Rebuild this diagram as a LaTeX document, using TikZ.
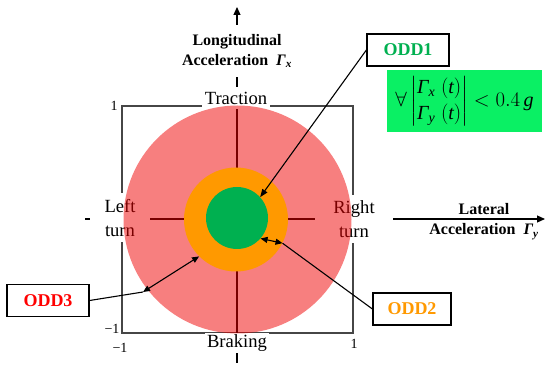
\documentclass[tikz,border=0pt]{standalone}
\usepackage{amsmath}
\usepackage{fontspec}
\setmainfont{Liberation Serif}
\usetikzlibrary{arrows.meta}
\definecolor{pinkred}{RGB}{240,0,0}
\definecolor{orng}{RGB}{255,153,0}
\definecolor{grn}{RGB}{0,176,80}
\definecolor{fgreen}{RGB}{10,240,100}
\definecolor{framec}{RGB}{70,70,70}
\newcommand{\tI}[1]{\text{\itshape #1}}
\begin{document}
\begin{tikzpicture}[x=1pt,y=-1pt,
  frame/.style={draw=framec, line width=1.5pt},
  axis/.style={draw=black, line width=1.1pt, -{Triangle[length=8pt,width=7pt]}},
  lbl/.style={font=\fontsize{18.6}{24}\selectfont, fill=white, inner sep=0pt},
  blbl/.style={font=\bfseries\fontsize{16}{20}\selectfont},
  tick/.style={font=\fontsize{14}{16}\selectfont, inner sep=0pt},
  oddbox/.style={draw=black, line width=1.2pt, minimum width=82pt, minimum height=32pt, inner sep=0pt, font=\bfseries\fontsize{18}{20}\selectfont},
  call/.style={draw=black, line width=1.1pt},
  tip/.style={-{Triangle[length=8pt,width=6pt]}},
  dtip/.style={{Triangle[length=7pt,width=6pt]}-{Triangle[length=7pt,width=6pt]}},
  disc/.style={circle, inner sep=0pt, draw=none}]
\useasboundingbox (0,0) rectangle (550,374);

% frame
\draw[frame] (122,106) rectangle (353,333);

% axes
\coordinate (hs) at (85,219);
\coordinate (he) at (545,219);
\coordinate (vs) at (237,363);
\coordinate (ve) at (237,7);
\draw[axis] (hs) -- (he);
\draw[axis] (vs) -- (ve);

% labels covering axes / frame
\node[lbl, minimum width=60pt, minimum height=49pt, align=center] (left) at (120,218) {Left\\turn};
\node[lbl, minimum width=78pt, minimum height=48pt, align=center] (right) at (354,219) {Right\\turn};
\node[lbl, minimum width=68pt, minimum height=22pt] (trac) at (236,98) {Traction};
\node[lbl, minimum width=64pt, minimum height=20pt] (brak) at (237,343) {Braking};
\node[blbl, fill=white, align=center, minimum height=52pt, inner sep=2pt] (long) at (237,51) {Longitudinal\\Acceleration \ {\itshape Γ\textsubscript{x}}};
\node[blbl, anchor=base] (lat1) at (484,215) {Lateral};
\node[blbl, anchor=base] (lat2) at (484,235) {Acceleration \ {\itshape Γ\textsubscript{y}}};

% ticks
\node[tick] (t1) at (114,106) {1};
\node[tick] (t2) at (112,329) {−1};
\node[tick] (t3) at (120,348) {−1};
\node[tick] (t4) at (354,344) {1};

% discs
\node[disc, fill=pinkred, fill opacity=0.5, minimum size=228pt] (pink) at (237.5,219.5) {};
\node[disc, fill=orng, minimum size=104pt] (orange) at (236,219.5) {};
\node[disc, fill=grn, minimum size=62pt] (green) at (237,218) {};

% callout boxes
\node[oddbox, text=grn] (odd1) at (408,50) {ODD1};
\node[oddbox, text=orng, minimum width=78pt] (odd2) at (412,309) {ODD2};
\node[oddbox, text=red] (odd3) at (48,300.5) {ODD3};

\node[fill=fgreen, minimum width=155pt, minimum height=62pt, inner sep=0pt, font=\fontsize{20}{24}\selectfont] (form) at (464.5,101)
  {\renewcommand{\arraystretch}{1.1}$\forall\left|\begin{matrix}\tI{Γ}_{\tI{x}}\;(\tI{t})\\ \tI{Γ}_{\tI{y}}\;(\tI{t})\end{matrix}\right|<0.4\,\tI{g}$};

% callout connectors
\coordinate (p3) at (143,292);
\draw[call, tip] (odd1.west) -- (green.42);
\draw[call] (odd2.west) -- (orange.-27);
\draw[call, dtip] (green.-41) -- (orange.-27);
\draw[call] (odd3.east) -- (p3);
\draw[call, dtip] (p3) -- (orange.225);
\end{tikzpicture}
\end{document}
